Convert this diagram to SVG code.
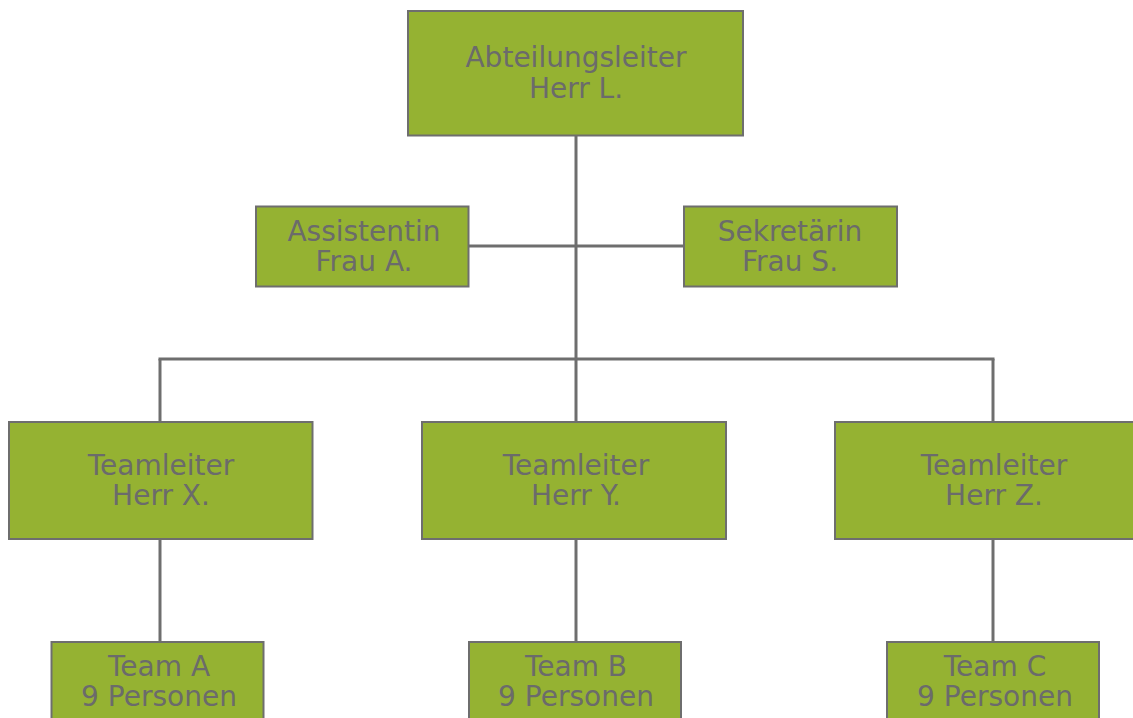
<svg xmlns="http://www.w3.org/2000/svg" width="1133" height="718" viewBox="0 0 1133 718">
<style>
.box{fill:#95B232;stroke:#6E6E6E;stroke-width:2}
.t{font-family:"DejaVu Sans",sans-serif;font-size:28px;fill:#6B6B6B;text-anchor:middle}
.ln{stroke:#6E6E6E;stroke-width:3;fill:none}
</style>
<rect width="1133" height="718" fill="#FFFFFF"/>
<g id="connectors">
<line class="ln" x1="576" y1="136" x2="576" y2="422"/>
<line class="ln" x1="469" y1="246" x2="684" y2="246"/>
<line class="ln" x1="158.5" y1="359" x2="994.5" y2="359"/>
<line class="ln" x1="160" y1="359" x2="160" y2="422"/>
<line class="ln" x1="993" y1="359" x2="993" y2="422"/>
<line class="ln" x1="160" y1="539" x2="160" y2="642"/>
<line class="ln" x1="576" y1="539" x2="576" y2="642"/>
<line class="ln" x1="993" y1="539" x2="993" y2="642"/>
</g>
<g id="abteilungsleiter">
<rect class="box" x="408" y="11" width="335" height="124.5"/>
<text class="t" x="576" y="67">Abteilungsleiter</text>
<text class="t" x="576" y="97.5">Herr L.</text>
</g>
<g id="assistentin">
<rect class="box" x="256" y="206.5" width="212.5" height="80"/>
<text class="t" x="364" y="240.5">Assistentin</text>
<text class="t" x="364" y="271">Frau A.</text>
</g>
<g id="sekretaerin">
<rect class="box" x="684" y="206.5" width="213" height="80"/>
<text class="t" x="790" y="240.5">Sekretärin</text>
<text class="t" x="790" y="271">Frau S.</text>
</g>
<g id="teamleiter-x">
<rect class="box" x="9" y="422" width="303.5" height="117"/>
<text class="t" x="161" y="474.5">Teamleiter</text>
<text class="t" x="161" y="504.5">Herr X.</text>
</g>
<g id="teamleiter-y">
<rect class="box" x="422" y="422" width="304" height="117"/>
<text class="t" x="576" y="474.5">Teamleiter</text>
<text class="t" x="576" y="504.5">Herr Y.</text>
</g>
<g id="teamleiter-z">
<rect class="box" x="835" y="422" width="304" height="117"/>
<text class="t" x="994" y="474.5">Teamleiter</text>
<text class="t" x="994" y="504.5">Herr Z.</text>
</g>
<g id="team-a">
<rect class="box" x="51.5" y="642" width="212" height="90"/>
<text class="t" x="159" y="675.5">Team A</text>
<text class="t" x="159" y="706">9 Personen</text>
</g>
<g id="team-b">
<rect class="box" x="469" y="642" width="212" height="90"/>
<text class="t" x="576" y="675.5">Team B</text>
<text class="t" x="576" y="706">9 Personen</text>
</g>
<g id="team-c">
<rect class="box" x="887" y="642" width="212" height="90"/>
<text class="t" x="995" y="675.5">Team C</text>
<text class="t" x="995" y="706">9 Personen</text>
</g>
</svg>
